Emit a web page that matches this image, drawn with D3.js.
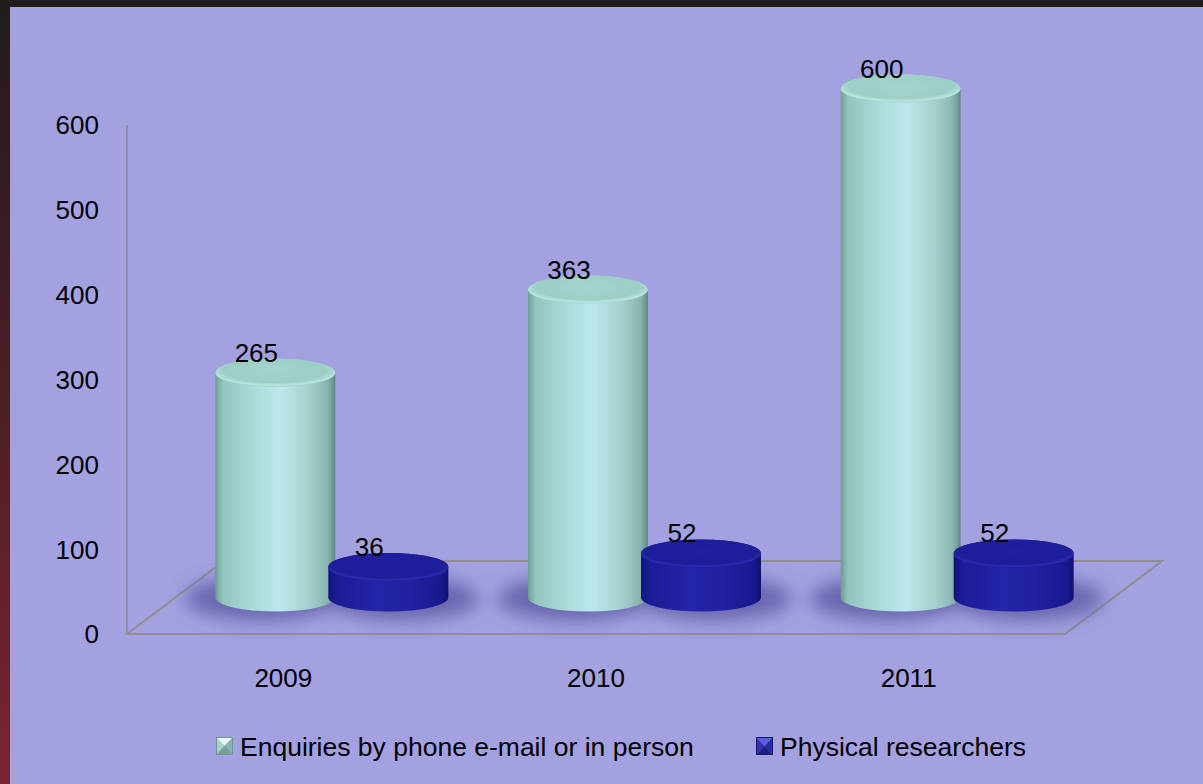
<!DOCTYPE html>
<html><head><meta charset="utf-8">
<script src="https://cdn.jsdelivr.net/npm/d3@7"></script>
<style>html,body{margin:0;padding:0;background:#221c1d;overflow:hidden}</style>
</head><body>
<svg id="c" width="1203" height="784"></svg>
<script>
const categories = ["2009", "2010", "2011"];
const seriesNames = ["Enquiries by phone e-mail or in person", "Physical researchers"];
const enquiries = [265, 363, 600];
const researchers = [36, 52, 52];
const yTicks = [0, 100, 200, 300, 400, 500, 600];

const W = 1203, H = 784;
const svg = d3.select("#c");
const defs = svg.append("defs");
const font = "'Liberation Sans', Arial, sans-serif";

// frame
const lg = defs.append("linearGradient").attr("id","leftEdge").attr("x1",0).attr("y1",0).attr("x2",0).attr("y2",1);
lg.append("stop").attr("offset",0).attr("stop-color","#221b1c");
lg.append("stop").attr("offset",0.5).attr("stop-color","#4a1f26");
lg.append("stop").attr("offset",1).attr("stop-color","#7c2432");
svg.append("rect").attr("x",0).attr("y",0).attr("width",W).attr("height",H).attr("fill","#221c1d");
svg.append("rect").attr("x",0).attr("y",7).attr("width",10).attr("height",H-7).attr("fill","url(#leftEdge)");
svg.append("rect").attr("x",10).attr("y",7).attr("width",W-10).attr("height",H-7).attr("fill","#a3a1e0");

// scales
const x = d3.scaleBand().domain(categories).range([127, 1065]);
const y = d3.scaleLinear().domain([0, 600]).range([634, 125]);
const depth = {dx: 97, dy: -73};
const mid = 0.5;

// gradients
function hGrad(id, stops){
  const g = defs.append("linearGradient").attr("id",id).attr("x1",0).attr("y1",0).attr("x2",1).attr("y2",0);
  stops.forEach(s=>g.append("stop").attr("offset",s[0]).attr("stop-color",s[1]));
}
hGrad("tealBody", [[0,"#6e9c95"],[0.06,"#92c3bd"],[0.3,"#a9dad8"],[0.55,"#bde8eb"],[0.8,"#a0cfcb"],[0.94,"#86b3ad"],[1,"#5e8983"]]);
hGrad("blueBody", [[0,"#13137e"],[0.08,"#1c1c98"],[0.4,"#2424a8"],[0.7,"#2020a0"],[0.94,"#19198e"],[1,"#101076"]]);
function rGrad(id, stops){
  const g = defs.append("radialGradient").attr("id",id).attr("cx","50%").attr("cy","42%").attr("r","62%");
  stops.forEach(s=>g.append("stop").attr("offset",s[0]).attr("stop-color",s[1]));
}
rGrad("tealTop", [[0,"#a4d4cc"],[0.7,"#9dcec6"],[0.86,"#b9e6e1"],[1,"#88b8b0"]]);
rGrad("blueTop", [[0,"#2020a0"],[0.75,"#1e1e9a"],[0.88,"#2c2cb2"],[1,"#19198c"]]);
const blur = defs.append("filter").attr("id","shadowBlur").attr("x","-50%").attr("y","-50%").attr("width","200%").attr("height","200%");
blur.append("feGaussianBlur").attr("stdDeviation",9);

// floor + axis lines
const fl = {x0: x.range()[0], x1: x.range()[1], y0: y(0)};
const floorPts = [[fl.x0, fl.y0],[fl.x1, fl.y0],[fl.x1+depth.dx, fl.y0+depth.dy],[fl.x0+depth.dx, fl.y0+depth.dy]];
svg.append("path").attr("d", d3.line()(floorPts)+"Z").attr("fill","none").attr("stroke","#8f8f8f").attr("stroke-width",2);
svg.append("line").attr("x1",fl.x0).attr("x2",fl.x0).attr("y1",y(600)).attr("y2",y(0)).attr("stroke","#8f8f8f").attr("stroke-width",2);

// y axis labels
svg.append("g").selectAll("text").data(yTicks).join("text")
  .attr("x", 99).attr("y", d=>y(d)).attr("dy","0.36em").attr("text-anchor","end")
  .attr("font-family",font).attr("font-size",26).attr("fill","#000").text(d=>d);

// category labels
svg.append("g").selectAll("text").data(categories).join("text")
  .attr("x", d=>x(d)+x.bandwidth()/2).attr("y", 687).attr("text-anchor","middle")
  .attr("font-family",font).attr("font-size",26).attr("fill","#000").text(d=>d);

// cylinders
const rx = 60, ry = 14, offset = 56.5;
const bars = [];
categories.forEach((c,i)=>{
  const cBand = x(c) + x.bandwidth()/2 + depth.dx*mid;
  bars.push({cat:c, v:enquiries[i], cx:cBand-offset, body:"url(#tealBody)", top:"url(#tealTop)", sh:-14});
  bars.push({cat:c, v:researchers[i], cx:cBand+offset, body:"url(#blueBody)", top:"url(#blueTop)", sh:14});
});
const yd = v => y(v) + depth.dy*mid;

const gShadow = svg.append("g").attr("filter","url(#shadowBlur)");
gShadow.selectAll("ellipse").data(bars).join("ellipse")
  .attr("cx", d=>d.cx+d.sh).attr("cy", d=>yd(0)+1).attr("rx", rx+16).attr("ry", ry+8)
  .attr("fill","#5f5ca6").attr("opacity",0.85);

const gBars = svg.append("g");
bars.forEach(d=>{
  const yt = yd(d.v), yb = yd(0);
  const g = gBars.append("g");
  g.append("path").attr("d",
    `M${d.cx-rx},${yt} L${d.cx-rx},${yb} A${rx},${ry} 0 0 0 ${d.cx+rx},${yb} L${d.cx+rx},${yt} A${rx},${ry} 0 0 0 ${d.cx-rx},${yt} Z`)
    .attr("fill", d.body);
  g.append("ellipse").attr("cx", d.cx).attr("cy", yt).attr("rx", rx).attr("ry", ry).attr("fill", d.top);
});

// data labels
svg.append("g").selectAll("text").data(bars).join("text")
  .attr("x", d=>d.cx-19).attr("y", d=>yd(d.v)-ry+3).attr("text-anchor","middle")
  .attr("font-family",font).attr("font-size",26).attr("fill","#000").text(d=>d.v);

// legend
const legend = svg.append("g");
const legItems = [
  {name:seriesNames[0], x:216, cols:["#e4fcfb","#a5d3cc","#86b2ab","#789f98"], stroke:"#6f9690"},
  {name:seriesNames[1], x:756, cols:["#5c5cdc","#3232b4","#2a2aa2","#1c1c84"], stroke:"#15156c"}
];
legItems.forEach(l=>{
  const x0=l.x, y0=737, w=17, h=18, cx=x0+w/2, cy=y0+h/2;
  const tri = [
    [[x0,y0],[x0+w,y0],[cx,cy]],
    [[x0,y0],[cx,cy],[x0,y0+h]],
    [[x0+w,y0],[x0+w,y0+h],[cx,cy]],
    [[x0,y0+h],[cx,cy],[x0+w,y0+h]]
  ];
  tri.forEach((t,i)=>legend.append("path").attr("d", d3.line()(t)+"Z").attr("fill", l.cols[i]));
  legend.append("rect").attr("x",x0+0.5).attr("y",y0+0.5).attr("width",w-1).attr("height",h-1)
    .attr("fill","none").attr("stroke",l.stroke).attr("stroke-width",1);
  legend.append("text").attr("x",x0+24).attr("y",756).attr("font-family",font).attr("font-size",26.5).attr("fill","#000").text(l.name);
});
</script>
</body></html>
